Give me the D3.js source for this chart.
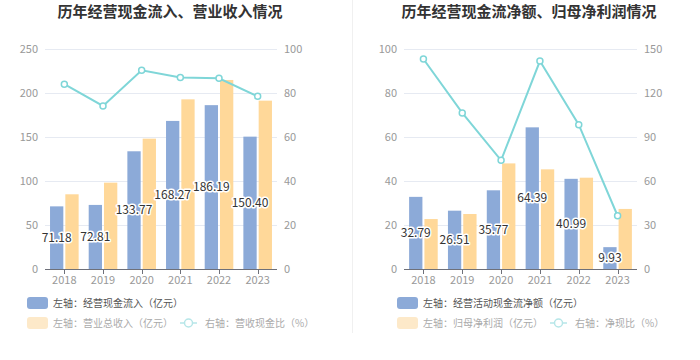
<!DOCTYPE html>
<html><head><meta charset="utf-8">
<script src="https://cdn.jsdelivr.net/npm/d3@7/dist/d3.min.js"></script>
<style>
html,body{margin:0;padding:0;background:#fff;}
svg{display:block;font-family:"Noto Sans CJK SC","Noto Sans",sans-serif;}
</style></head>
<body>
<svg id="c" width="700" height="360"></svg>
<script>
const years = ["2018","2019","2020","2021","2022","2023"];
// Chart 1
const cashIn = [71.18, 72.81, 133.77, 168.27, 186.19, 150.40];
const revenue = [84.9, 98.1, 148.1, 192.8, 214.8, 191.3];
const cashRatio = [84.0, 74.1, 90.3, 87.1, 86.7, 78.5];
const leftTicks1 = [0, 50, 100, 150, 200, 250];
const rightTicks1 = [0, 20, 40, 60, 80, 100];
// Chart 2
const netCash = [32.79, 26.51, 35.77, 64.39, 40.99, 9.93];
const netProfit = [22.7, 25.0, 48.0, 45.3, 41.5, 27.3];
const netRatio = [143.2, 106.4, 74.1, 141.8, 98.4, 36.3];
const leftTicks2 = [0, 20, 40, 60, 80, 100];
const rightTicks2 = [0, 30, 60, 90, 120, 150];

const BLUE = "#8caad8", YELLOW = "#ffd899", TEAL = "#7fd6d8";
const svg = d3.select("#c");

// divider
svg.append("line").attr("x1", 352.5).attr("x2", 352.5).attr("y1", 0).attr("y2", 333)
  .attr("stroke", "#f0f0f0").attr("stroke-width", 1);

function drawChart(cfg) {
  const g = svg.append("g");
  const top = 49, bottom = 269;
  const x = d3.scaleBand().domain(years).range([cfg.x0, cfg.x1]);
  const yL = d3.scaleLinear().domain([0, cfg.leftMax]).range([bottom, top]);
  const yR = d3.scaleLinear().domain([0, cfg.rightMax]).range([bottom, top]);

  // title
  g.append("text").attr("x", cfg.titleX).attr("y", 17).attr("text-anchor", "middle")
    .attr("font-size", 15).attr("font-weight", "bold").attr("fill", "#333").text(cfg.title);

  // grid
  g.selectAll(".grid").data(cfg.leftTicks.slice(1)).join("line")
    .attr("x1", cfg.x0).attr("x2", cfg.x1)
    .attr("y1", d => Math.round(yL(d)) + 0.5).attr("y2", d => Math.round(yL(d)) + 0.5)
    .attr("stroke", "#e6eaf2").attr("stroke-width", 1);

  // left axis labels
  g.selectAll(".ll").data(cfg.leftTicks).join("text")
    .attr("x", cfg.x0 - 7).attr("y", d => yL(d)).attr("dy", "0.35em")
    .attr("text-anchor", "end").attr("font-size", 11).attr("fill", "#999").text(d => d);
  // right axis labels
  g.selectAll(".rl").data(cfg.rightTicks).join("text")
    .attr("x", cfg.x1 + 7).attr("y", d => yR(d)).attr("dy", "0.35em")
    .attr("text-anchor", "start").attr("font-size", 11).attr("fill", "#999").text(d => d);

  const bw = 13.3, gap = 2;
  const cx = d => x(d) + x.bandwidth() / 2;
  // bars
  g.selectAll(".b1").data(years).join("rect")
    .attr("x", (d) => cx(d) - gap / 2 - bw).attr("width", bw)
    .attr("y", (d, i) => yL(cfg.s1[i])).attr("height", (d, i) => bottom - yL(cfg.s1[i]))
    .attr("fill", BLUE);
  g.selectAll(".b2").data(years).join("rect")
    .attr("x", (d) => cx(d) + gap / 2).attr("width", bw)
    .attr("y", (d, i) => yL(cfg.s2[i])).attr("height", (d, i) => bottom - yL(cfg.s2[i]))
    .attr("fill", YELLOW);

  // x axis
  g.append("line").attr("x1", cfg.x0).attr("x2", cfg.x1).attr("y1", bottom + 0.5).attr("y2", bottom + 0.5)
    .attr("stroke", "#6e7079").attr("stroke-width", 1);
  g.selectAll(".tk").data(years).join("line")
    .attr("x1", d => Math.round(cx(d)) + 0.5).attr("x2", d => Math.round(cx(d)) + 0.5)
    .attr("y1", bottom).attr("y2", bottom + 5).attr("stroke", "#6e7079");
  g.selectAll(".xl").data(years).join("text")
    .attr("x", d => cx(d)).attr("y", bottom + 11).attr("dy", "0.35em")
    .attr("text-anchor", "middle").attr("font-size", 11).attr("fill", "#999").text(d => d);

  // line
  const line = d3.line().x((d, i) => cx(years[i])).y(d => yR(d));
  g.append("path").datum(cfg.s3).attr("d", line).attr("fill", "none")
    .attr("stroke", TEAL).attr("stroke-width", 2);
  g.selectAll(".pt").data(cfg.s3).join("circle")
    .attr("cx", (d, i) => cx(years[i])).attr("cy", d => yR(d)).attr("r", 3)
    .attr("fill", "#fff").attr("stroke", TEAL).attr("stroke-width", 1.5);

  // value labels
  g.selectAll(".vl").data(cfg.s1).join("text")
    .attr("x", (d, i) => cx(years[i]) - gap / 2 - bw / 2)
    .attr("y", d => (yL(d) + bottom) / 2).attr("dy", "0.35em")
    .attr("text-anchor", "middle").attr("font-size", 12).attr("fill", "#333")
    .attr("stroke", "#fff").attr("stroke-width", 3).attr("paint-order", "stroke")
    .attr("stroke-linejoin", "round")
    .text(d => d.toFixed(2));

  // legend
  const lx = cfg.legendX;
  g.append("rect").attr("x", lx).attr("y", 297).attr("width", 21).attr("height", 12).attr("rx", 3)
    .attr("fill", BLUE);
  g.append("text").attr("x", lx + 26).attr("y", 303).attr("dy", "0.35em")
    .attr("font-size", 10).attr("fill", "#555").text(cfg.leg1);
  g.append("rect").attr("x", lx).attr("y", 317).attr("width", 21).attr("height", 12).attr("rx", 3)
    .attr("fill", "#fde9c9");
  g.append("text").attr("x", lx + 26).attr("y", 323).attr("dy", "0.35em")
    .attr("font-size", 10).attr("fill", "#aaa").text(cfg.leg2);
  const li = lx + 153;
  g.append("line").attr("x1", li).attr("x2", li + 17).attr("y1", 323).attr("y2", 323)
    .attr("stroke", "#b6e6e8").attr("stroke-width", 1.5);
  g.append("circle").attr("cx", li + 8.5).attr("cy", 323).attr("r", 4)
    .attr("fill", "#fff").attr("stroke", "#b6e6e8").attr("stroke-width", 1.5);
  g.append("text").attr("x", li + 25).attr("y", 323).attr("dy", "0.35em")
    .attr("font-size", 10).attr("fill", "#aaa").text(cfg.leg3);
}

drawChart({
  x0: 45, x1: 277, leftMax: 250, rightMax: 100,
  leftTicks: leftTicks1, rightTicks: rightTicks1,
  s1: cashIn, s2: revenue, s3: cashRatio,
  title: "历年经营现金流入、营业收入情况", titleX: 170,
  legendX: 27,
  leg1: "左轴：经营现金流入（亿元）", leg2: "左轴：营业总收入（亿元）", leg3: "右轴：营收现金比（%）"
});
drawChart({
  x0: 404, x1: 637, leftMax: 100, rightMax: 150,
  leftTicks: leftTicks2, rightTicks: rightTicks2,
  s1: netCash, s2: netProfit, s3: netRatio,
  title: "历年经营现金流净额、归母净利润情况", titleX: 529,
  legendX: 397,
  leg1: "左轴：经营活动现金流净额（亿元）", leg2: "左轴：归母净利润（亿元）", leg3: "右轴：净现比（%）"
});
</script>
</body></html>
